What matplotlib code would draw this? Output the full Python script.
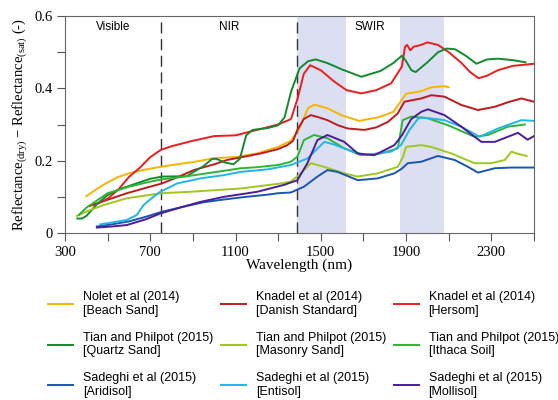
import matplotlib
matplotlib.use("Agg")
import matplotlib.pyplot as plt

plt.rcParams['font.family'] = ['Liberation Serif', 'DejaVu Serif']
plt.rcParams['mathtext.fontset'] = 'custom'
plt.rcParams['mathtext.rm'] = 'Liberation Serif'

# Nolet et al (2014) [Beach Sand]
beach_wl = [400, 450, 500, 550, 600, 650, 700, 750, 800, 900, 1000, 1100, 1200, 1300, 1360, 1400, 1440, 1470,
            1530, 1600, 1680, 1770, 1840, 1870, 1900, 1970, 2020, 2080, 2100]
beach_r = [0.102, 0.122, 0.14, 0.155, 0.165, 0.172, 0.178, 0.183, 0.188, 0.196, 0.207, 0.21, 0.22, 0.238, 0.255,
           0.29, 0.345, 0.355, 0.345, 0.325, 0.31, 0.32, 0.335, 0.36, 0.385, 0.392, 0.403, 0.406, 0.403]

# Knadel et al (2014) [Danish Standard]
danish_wl = [414, 500, 590, 680, 755, 830, 904, 1000, 1061, 1150, 1218, 1300, 1343, 1370, 1390, 1420, 1453, 1490,
             1531, 1580, 1626, 1704, 1760, 1814, 1860, 1892, 1971, 2018, 2080, 2159, 2237, 2316, 2380, 2441, 2500]
danish_r = [0.075, 0.092, 0.11, 0.125, 0.137, 0.155, 0.174, 0.19, 0.202, 0.212, 0.22, 0.232, 0.243, 0.255, 0.285,
            0.315, 0.326, 0.32, 0.312, 0.298, 0.289, 0.285, 0.292, 0.307, 0.33, 0.363, 0.372, 0.381, 0.377, 0.354,
            0.34, 0.349, 0.362, 0.372, 0.363]

# Knadel et al (2014) [Hersom]
hersom_wl = [414, 450, 500, 550, 600, 650, 700, 750, 800, 900, 1000, 1100, 1200, 1300, 1360, 1390, 1420, 1450,
             1500, 1560, 1620, 1690, 1760, 1830, 1880, 1895, 1905, 1920, 1935, 1970, 2000, 2050, 2100, 2160, 2200,
             2240, 2280, 2330, 2400, 2500]
hersom_r = [0.075, 0.08, 0.095, 0.12, 0.155, 0.18, 0.21, 0.23, 0.24, 0.255, 0.268, 0.27, 0.285, 0.3, 0.315, 0.37,
            0.44, 0.464, 0.45, 0.42, 0.395, 0.386, 0.395, 0.414, 0.46, 0.515, 0.52, 0.505, 0.515, 0.52, 0.527, 0.52,
            0.5, 0.47, 0.445, 0.428, 0.435, 0.45, 0.462, 0.468]

# Tian and Philpot (2015) [Quartz Sand]
quartz_wl = [358, 380, 402, 450, 500, 550, 650, 700, 756, 870, 950, 990, 1010, 1050, 1090, 1120, 1150, 1180, 1250,
             1300, 1330, 1360, 1400, 1440, 1476, 1530, 1600, 1690, 1780, 1840, 1880, 1900, 1925, 1945, 2000, 2050,
             2090, 2130, 2180, 2230, 2280, 2330, 2400, 2460]
quartz_r = [0.04, 0.04, 0.048, 0.08, 0.105, 0.12, 0.14, 0.15, 0.156, 0.157, 0.185, 0.205, 0.205, 0.195, 0.19, 0.205,
            0.27, 0.285, 0.29, 0.298, 0.32, 0.39, 0.455, 0.475, 0.48, 0.47, 0.452, 0.432, 0.448, 0.47, 0.49, 0.475,
            0.45, 0.445, 0.472, 0.5, 0.51, 0.508, 0.49, 0.468, 0.48, 0.482, 0.478, 0.472]

# Tian and Philpot (2015) [Masonry Sand]
masonry_wl = [355, 420, 480, 590, 750, 888, 1124, 1312, 1359, 1406, 1453, 1516, 1610, 1673, 1767, 1861, 1885, 1900,
              1971, 2018, 2112, 2221, 2300, 2363, 2394, 2418, 2465]
masonry_r = [0.047, 0.064, 0.077, 0.096, 0.11, 0.114, 0.123, 0.137, 0.142, 0.165, 0.193, 0.183, 0.165, 0.156, 0.165,
             0.183, 0.21, 0.238, 0.243, 0.238, 0.22, 0.193, 0.193, 0.202, 0.225, 0.22, 0.213]

# Tian and Philpot (2015) [Ithaca Soil]
ithaca_wl = [365, 400, 450, 500, 600, 700, 750, 850, 1000, 1124, 1200, 1300, 1359, 1390, 1421, 1468, 1531, 1610,
             1688, 1782, 1861, 1884, 1924, 2002, 2096, 2221, 2284, 2378, 2457]
ithaca_r = [0.05, 0.07, 0.09, 0.11, 0.128, 0.142, 0.148, 0.155, 0.168, 0.179, 0.182, 0.188, 0.197, 0.211, 0.257,
            0.271, 0.262, 0.234, 0.215, 0.22, 0.234, 0.312, 0.322, 0.317, 0.298, 0.266, 0.271, 0.294, 0.3]

# Sadeghi et al (2015) [Aridisol]
aridisol_wl = [450, 520, 600, 680, 750, 850, 950, 1050, 1150, 1250, 1300, 1359, 1421, 1484, 1531, 1578, 1673, 1767,
               1845, 1880, 1908, 1971, 2049, 2127, 2190, 2237, 2316, 2394, 2500]
aridisol_r = [0.018, 0.024, 0.032, 0.045, 0.058, 0.072, 0.085, 0.093, 0.1, 0.106, 0.11, 0.112, 0.128, 0.156, 0.174,
              0.169, 0.146, 0.151, 0.165, 0.178, 0.193, 0.197, 0.213, 0.202, 0.183, 0.167, 0.179, 0.181, 0.181]

# Sadeghi et al (2015) [Entisol]
entisol_wl = [465, 530, 590, 637, 668, 710, 747, 826, 935, 1045, 1124, 1250, 1359, 1437, 1516, 1560, 1610, 1704,
              1829, 1876, 1916, 1955, 1971, 2080, 2159, 2245, 2331, 2441, 2500]
entisol_r = [0.024, 0.03, 0.036, 0.05, 0.077, 0.098, 0.114, 0.137, 0.151, 0.16, 0.169, 0.176, 0.188, 0.206, 0.252,
             0.245, 0.234, 0.215, 0.225, 0.243, 0.285, 0.315, 0.32, 0.312, 0.294, 0.266, 0.289, 0.312, 0.31]

# Sadeghi et al (2015) [Mollisol]
mollisol_wl = [449, 520, 590, 680, 747, 850, 935, 1045, 1202, 1327, 1390, 1437, 1484, 1531, 1610, 1673, 1751, 1845,
               1880, 1924, 1971, 2002, 2080, 2159, 2253, 2316, 2425, 2470, 2500]
mollisol_r = [0.015, 0.018, 0.022, 0.038, 0.054, 0.072, 0.086, 0.1, 0.114, 0.133, 0.146, 0.193, 0.257, 0.271, 0.252,
              0.22, 0.215, 0.243, 0.27, 0.315, 0.335, 0.342, 0.326, 0.294, 0.252, 0.252, 0.277, 0.258, 0.268]

series = [
    ("Nolet et al (2014)\n[Beach Sand]", beach_wl, beach_r, "#f7b500"),
    ("Knadel et al (2014)\n[Danish Standard]", danish_wl, danish_r, "#c01a1e"),
    ("Knadel et al (2014)\n[Hersom]", hersom_wl, hersom_r, "#ee1c1c"),
    ("Tian and Philpot (2015)\n[Quartz Sand]", quartz_wl, quartz_r, "#138a2e"),
    ("Tian and Philpot (2015)\n[Masonry Sand]", masonry_wl, masonry_r, "#9dc81c"),
    ("Tian and Philpot (2015)\n[Ithaca Soil]", ithaca_wl, ithaca_r, "#2db634"),
    ("Sadeghi et al (2015)\n[Aridisol]", aridisol_wl, aridisol_r, "#1a56b0"),
    ("Sadeghi et al (2015)\n[Entisol]", entisol_wl, entisol_r, "#1fb6ea"),
    ("Sadeghi et al (2015)\n[Mollisol]", mollisol_wl, mollisol_r, "#4b1c9c"),
]

fig = plt.figure(figsize=(5.58, 4.0), dpi=100)
ax = fig.add_axes([0.1165, 0.4175, 0.8405, 0.5425])

ax.axvspan(1390, 1620, color="#dcdff1", lw=0, zorder=0)
ax.axvspan(1870, 2080, color="#dcdff1", lw=0, zorder=0)
ax.axvline(750, color="#333333", lw=1, ls=(0, (8, 4)), zorder=1)
ax.axvline(1390, color="#333333", lw=1, ls=(0, (8, 4)), zorder=1)

handles = []
for label, wl, r, c in series:
    h, = ax.plot(wl, r, color=c, lw=1.4, label=label, zorder=3)
    handles.append(h)

ax.set_xlim(300, 2500)
ax.set_ylim(0, 0.6)
ax.set_xticks(range(300, 2501, 200), minor=False)
ax.set_xticklabels([str(v) if (v - 300) % 400 == 0 else "" for v in range(300, 2501, 200)])
ax.set_yticks([0, 0.1, 0.2, 0.3, 0.4, 0.5, 0.6])
ax.set_yticklabels(["0", "", "0.2", "", "0.4", "", "0.6"])
ax.tick_params(direction="out", length=5.5, width=0.8, color="#555555", labelsize=10.5)
for s in ax.spines.values():
    s.set_color("#666666")
    s.set_linewidth(0.8)

ax.set_xlabel("Wavelength (nm)", fontsize=11, labelpad=0)
ax.set_ylabel("Reflectance$_{\\mathregular{(dry)}}$ $-$ Reflectance$_{\\mathregular{(sat)}}$ (-)", fontsize=10.5,
              labelpad=3)

ax.text(525, 0.57, "Visible", ha="center", va="center", fontsize=8.5, family="Liberation Sans")
ax.text(1070, 0.57, "NIR", ha="center", va="center", fontsize=8.5, family="Liberation Sans")
ax.text(1730, 0.57, "SWIR", ha="center", va="center", fontsize=8.5, family="Liberation Sans")

# legend is filled column by column, so reorder to get the row layout
order = [0, 3, 6, 1, 4, 7, 2, 5, 8]
fig.legend([handles[i] for i in order], [series[i][0] for i in order], ncol=3, loc="upper left",
           bbox_to_anchor=(0.075, 0.287), frameon=False, prop={"family": "Liberation Sans", "size": 9},
           handlelength=2.0, handletextpad=0.8, columnspacing=0.6, labelspacing=1.15, borderpad=0)

fig.savefig("out.png", dpi=100)
